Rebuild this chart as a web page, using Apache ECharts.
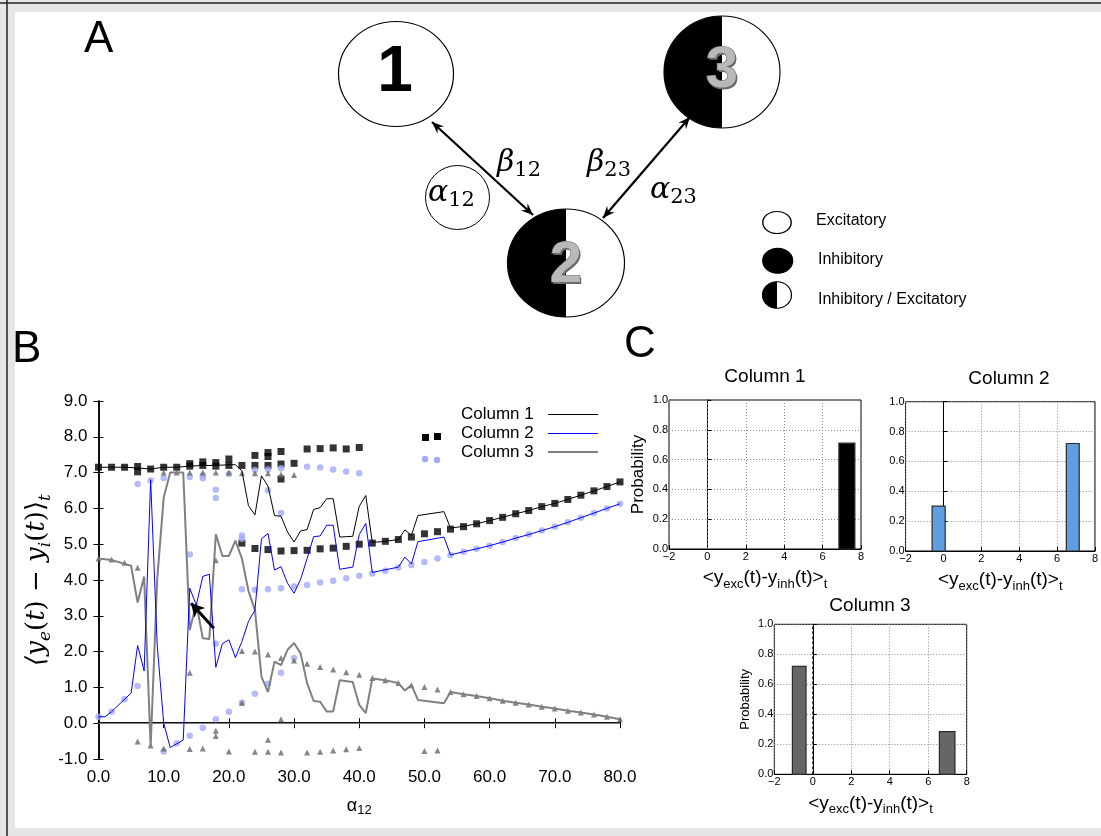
<!DOCTYPE html>
<html>
<head>
<meta charset="utf-8">
<script src="https://cdn.jsdelivr.net/npm/echarts@6/dist/echarts.min.js"></script>
<style>
  html, body { margin: 0; padding: 0; background: #e6e6e6; }
  #chart { width: 1101px; height: 836px; }
</style>
</head>
<body>
<div id="chart"></div>
<script>
// ---- Panel B: time-averaged excitation minus inhibition vs alpha_12 ----
// mean curves, [alpha12, value]
const col1Line = [[0,7.15],[2,7.15],[4,7.15],[6,7.13],[8,7.1],[10,7.15],[12,7.15],[14,7.18],[16,7.2],[18,7.2],[20,7.22],[21,7.22],[22,7.05],[23,6.08],[24,5.82],[25,6.91],[26,6.62],[27,5.8],[28,5.78],[29,5.34],[30,5.06],[31,5.37],[32,5.41],[33,5.97],[34,6.02],[35,6.27],[36,6.27],[37,5.2],[38,5.21],[39,5.22],[40,6.06],[41,6.36],[42,5.05],[44,5.08],[46,5.13],[47,5.4],[48,5.25],[49,5.8],[53,5.91],[54,5.45],[56,5.5],[58,5.57],[60,5.66],[62,5.75],[64,5.85],[66,5.94],[68,6.05],[70,6.14],[72,6.25],[74,6.37],[76,6.49],[78,6.61],[80,6.74]];
const col2Line = [[0,0.18],[1,0.18],[2,0.32],[4,0.67],[5,0.84],[6,2.17],[7,1.46],[8,6.8],[9,2.2],[10,0.0],[11,-0.68],[13,-0.47],[14,3.77],[15,3.3],[16,4.1],[17,4.16],[18,1.56],[19,2.22],[20,2.33],[21,1.83],[22,2.28],[23,2.84],[24,3.16],[25,5.15],[26,5.3],[27,4.28],[28,4.37],[29,3.91],[30,3.63],[31,4.02],[32,4.6],[33,5.21],[34,5.23],[35,5.53],[36,5.53],[37,4.3],[39,4.36],[40,5.27],[41,5.58],[42,4.21],[46,4.36],[47,4.64],[48,4.45],[49,5.07],[53,5.2],[54,4.7],[56,4.79],[58,4.87],[60,4.96],[62,5.06],[64,5.17],[66,5.27],[68,5.38],[70,5.49],[72,5.61],[74,5.74],[76,5.87],[78,6.0],[80,6.13]];
const col3Line = [[0,4.6],[2,4.56],[4,4.45],[5,4.4],[6,3.37],[7,4.1],[8,-0.65],[9,4.0],[10,6.3],[11,7.0],[13,7.0],[14,2.6],[15,3.35],[16,2.37],[17,2.35],[18,5.28],[19,4.67],[20,4.67],[21,5.1],[22,4.6],[23,3.7],[24,3.16],[25,1.3],[26,0.87],[27,1.72],[28,1.62],[29,2.05],[30,2.24],[31,1.95],[32,1.12],[33,0.62],[34,0.6],[35,0.33],[36,0.33],[37,1.2],[39,1.15],[40,0.51],[41,0.28],[42,1.25],[44,1.2],[46,1.12],[47,0.91],[48,1.07],[49,0.65],[53,0.56],[54,0.87],[56,0.81],[58,0.76],[60,0.7],[62,0.63],[64,0.57],[66,0.52],[68,0.46],[70,0.41],[72,0.35],[74,0.3],[76,0.24],[78,0.18],[80,0.11]];

// individual fixed points
const squarePts = [[0,7.15],[2,7.15],[4,7.15],[6,7.17],[6,7.02],[8,7.1],[10,7.15],[12,7.15],[14,7.25],[14,7.18],[16,7.3],[16,7.2],[18,7.28],[18,7.18],[20,7.38],[20,7.2],[22,7.2],[24,7.48],[24,7.2],[26,7.56],[26,7.45],[26,7.2],[28,7.59],[28,7.24],[28,6.82],[30,7.26],[32,7.66],[34,7.67],[36,7.69],[38,7.66],[40,7.7],
  [22,5.03],[24,4.88],[26,4.85],[28,4.81],[30,4.82],[32,4.83],[34,4.87],[36,4.89],[38,4.94],[40,5.0],[42,5.03],[44,5.08],[46,5.13],[48,5.2],[50,5.29],[52,5.35],[54,5.42],[56,5.49],[58,5.57],[60,5.66],[62,5.75],[64,5.85],[66,5.94],[68,6.05],[70,6.14],[72,6.25],[74,6.37],[76,6.49],[78,6.61],[80,6.74]];
const dotPts = [[0,0.18],[2,0.32],[4,0.67],[6,1.04],[6,6.68],[8,6.78],[10,6.85],[10,-0.79],[12,-0.56],[14,6.88],[14,4.71],[14,-0.35],[16,6.92],[16,6.84],[16,-0.13],[18,6.52],[18,6.29],[18,2.22],[18,0.11],[20,6.96],[20,0.32],[22,5.24],[22,5.15],[22,3.74],[22,0.57],[24,7.07],[24,3.73],[24,0.82],[26,7.09],[26,6.51],[26,3.74],[26,1.1],[28,7.12],[28,5.87],[28,3.77],[28,1.41],[30,3.82],[30,1.82],[32,7.16],[32,3.86],[34,7.14],[34,3.93],[36,7.09],[36,3.98],[38,7.03],[38,4.05],[40,6.98],[40,4.12],[42,4.18],[44,4.26],[46,4.35],[48,4.42],[50,4.5],[52,4.6],[54,4.7],[56,4.79],[58,4.87],[60,4.96],[62,5.06],[64,5.17],[66,5.27],[68,5.38],[70,5.49],[72,5.61],[74,5.74],[76,5.87],[78,6.0],[80,6.13]];
const trianglePts = [[0,4.6],[2,4.57],[4,4.48],[6,4.34],[6,-0.51],[8,-0.62],[10,7.0],[10,-0.71],[12,7.0],[14,7.0],[14,1.41],[14,-0.72],[16,7.0],[16,-0.71],[18,7.0],[18,4.55],[18,-0.21],[18,-0.36],[20,7.0],[20,-0.79],[22,6.98],[22,2.02],[22,0.57],[24,6.98],[24,2.0],[24,-0.8],[26,6.98],[26,1.92],[26,-0.46],[26,-0.8],[28,6.95],[28,1.82],[28,0.11],[28,-0.82],[30,6.93],[30,1.75],[32,1.66],[32,-0.82],[34,1.57],[34,-0.8],[36,1.5],[36,-0.76],[38,1.42],[38,-0.73],[40,1.35],[40,-0.69],[42,1.26],[44,1.2],[46,1.12],[48,1.06],[50,1.01],[50,-0.78],[52,0.94],[52,-0.76],[54,0.87],[56,0.81],[58,0.76],[60,0.7],[62,0.63],[64,0.57],[66,0.52],[68,0.46],[70,0.41],[72,0.35],[74,0.3],[76,0.24],[78,0.18],[80,0.11]];

// annotation arrow (tail -> head) in data units
const arrowTail = [17.7, 2.65];
const arrowHead = [14.2, 3.35];

const legendNames = ['Column 1', 'Column 2', 'Column 3'];

// ---- Panel C: histograms, [binStart, binEnd, probability] ----
const hist1 = [[6.85, 7.68, 0.71]];
const hist2 = [[-0.6, 0.09, 0.30], [6.49, 7.17, 0.72]];
const hist3 = [[-1.06, -0.35, 0.72], [6.58, 7.39, 0.285]];

const SANS = 'Liberation Sans, Arial, Helvetica, sans-serif';
const SERIF = 'DejaVu Serif, Liberation Serif, serif';

const chart = echarts.init(document.getElementById('chart'), null, { renderer: 'canvas' });

const fmt1 = v => v.toFixed(1);
const minusFmt = v => (v < 0 ? '\u2212' + Math.abs(v) : String(v));

function histBar(color) {
  return function (params, api) {
    const p0 = api.coord([api.value(0), 0]);
    const p1 = api.coord([api.value(1), api.value(2)]);
    return {
      type: 'rect',
      shape: { x: p0[0], y: p1[1], width: p1[0] - p0[0], height: p0[1] - p1[1] },
      style: { fill: color, stroke: '#2a2a2a', lineWidth: 1.2 }
    };
  };
}

const xNameRich = {
  rich: {
    s: { fontSize: 13, fontFamily: SANS, verticalAlign: 'bottom', lineHeight: 14, color: '#000' }
  },
  fontSize: 19, fontFamily: SANS, lineHeight: 26, color: '#000'
};

function histAxes(grid, withYName, yNameSize, yGap) {
  return {
    x: {
      type: 'value', gridIndex: grid, min: -2, max: 8, interval: 2,
      axisLine: { lineStyle: { color: '#000', width: 1 } },
      axisTick: { inside: true, length: 4, lineStyle: { color: '#000' } },
      axisLabel: { formatter: minusFmt, fontSize: 11, margin: 2, color: '#000', fontFamily: SANS },
      splitLine: { show: true, lineStyle: { type: [1, 2], color: '#8a8a8a', width: 1 } },
      name: '<y{s|exc}(t)-y{s|inh}(t)>{s|t}', nameLocation: 'middle', nameGap: 16,
      nameTextStyle: xNameRich
    },
    y: {
      type: 'value', gridIndex: grid, min: 0, max: 1, interval: 0.2,
      axisLine: { lineStyle: { color: '#000', width: 1 } },
      axisTick: { inside: true, length: 4, lineStyle: { color: '#000' } },
      axisLabel: { formatter: fmt1, fontSize: 11, margin: 1, color: '#000', fontFamily: SANS },
      splitLine: { show: true, lineStyle: { type: [1, 2], color: '#8a8a8a', width: 1 } },
      name: withYName ? 'Probability' : '', nameLocation: 'middle', nameRotate: 90, nameGap: yGap,
      nameTextStyle: { fontSize: yNameSize, fontFamily: SANS, color: '#000' }
    }
  };
}

const h1 = histAxes(1, true, 17, 22);
const h2 = histAxes(2, false, 12, 20);
const h3 = histAxes(3, true, 13, 22);

// ---- Panel A diagram helpers (layout only) ----
function stealth(tip, from, len, hw) {
  const dx = tip[0] - from[0], dy = tip[1] - from[1];
  const L = Math.hypot(dx, dy), ux = dx / L, uy = dy / L;
  const bx = tip[0] - ux * len, by = tip[1] - uy * len;
  return [[tip[0], tip[1]], [bx - uy * hw, by + ux * hw], [tip[0] - ux * len * 0.65, tip[1] - uy * len * 0.65], [bx + uy * hw, by - ux * hw]];
}
function doubleArrow(a, b) {
  return [
    { type: 'line', shape: { x1: a[0], y1: a[1], x2: b[0], y2: b[1] }, style: { stroke: '#000', lineWidth: 2.2 }, z: 20 },
    { type: 'polygon', shape: { points: stealth(a, b, 12, 5) }, style: { fill: '#000' }, z: 20 },
    { type: 'polygon', shape: { points: stealth(b, a, 12, 5) }, style: { fill: '#000' }, z: 20 }
  ];
}
function node(cx, cy, rx, ry, kind) {
  const children = [];
  if (kind === 'full') {
    children.push({ type: 'circle', shape: { cx: 0, cy: 0, r: ry }, style: { fill: '#000', stroke: '#000', lineWidth: 1 } });
  } else {
    children.push({ type: 'circle', shape: { cx: 0, cy: 0, r: ry }, style: { fill: '#fff', stroke: 'none' } });
    if (kind === 'half') {
      children.push({ type: 'sector', shape: { cx: 0, cy: 0, r: ry, r0: 0, startAngle: Math.PI / 2, endAngle: Math.PI * 1.5 }, style: { fill: '#000' } });
    }
    children.push({ type: 'circle', shape: { cx: 0, cy: 0, r: ry }, style: { fill: 'none', stroke: '#000', lineWidth: 1.1 } });
  }
  return { type: 'group', x: cx, y: cy, scaleX: rx / ry, z: 15, children: children };
}
function metalDigit(txt, x, y, size) {
  return {
    type: 'group', z: 30, children: [
      { type: 'text', x: x + 1.5, y: y + 1.5, z: 30,
        style: { text: txt, font: 'bold ' + size + 'px ' + SANS, align: 'center', verticalAlign: 'middle', fill: '#6a6a6a' } },
      { type: 'text', x: x, y: y, z: 31,
        style: { text: txt, font: 'bold ' + size + 'px ' + SANS, align: 'center', verticalAlign: 'middle',
          fill: '#b9b9b9', stroke: '#707070', lineWidth: 1.2 } }
    ]
  };
}
function mathLabel(main, sub, x, y) {
  return {
    type: 'text', x: x, y: y, z: 30,
    style: {
      text: '{m|' + main + '}{s|' + sub + '}',
      rich: {
        m: { fontFamily: SERIF, fontStyle: 'italic', fontSize: 30, lineHeight: 36, fill: '#000' },
        s: { fontFamily: SERIF, fontSize: 21, lineHeight: 20, verticalAlign: 'bottom', fill: '#000' }
      },
      align: 'left', verticalAlign: 'middle'
    }
  };
}

const graphics = [
  // figure sheet
  { type: 'rect', shape: { x: 0, y: 0, width: 1101, height: 836 }, style: { fill: '#e6e6e6' }, z: -20 },
  { type: 'line', shape: { x1: 7, y1: 0, x2: 7, y2: 836 }, style: { stroke: '#222', lineWidth: 1.5 }, z: -19 },
  { type: 'line', shape: { x1: 0, y1: 3, x2: 1101, y2: 3 }, style: { stroke: '#222', lineWidth: 1.5 }, z: -19 },
  { type: 'rect', shape: { x: 15, y: 12, width: 1086, height: 816 }, style: { fill: '#fff' }, z: -18 },

  // panel letters
  { type: 'text', x: 84, y: 40, style: { text: 'A', font: '44px ' + SANS, fill: '#000', verticalAlign: 'middle' } },
  { type: 'text', x: 12, y: 350, style: { text: 'B', font: '44px ' + SANS, fill: '#000', verticalAlign: 'middle' } },
  { type: 'text', x: 624, y: 345, style: { text: 'C', font: '44px ' + SANS, fill: '#000', verticalAlign: 'middle' } },

  // network nodes
  node(396, 74, 57.5, 52.5, 'open'),
  node(566, 263, 58.5, 54, 'half'),
  node(722, 72, 58, 56, 'half'),
  { type: 'text', x: 395, y: 73, z: 30, style: { text: '1', font: 'bold 64px ' + SANS, fill: '#000', align: 'center', verticalAlign: 'middle' } },
  metalDigit('2', 566, 266, 58),
  metalDigit('3', 722, 71, 58),
  ...doubleArrow([432, 122], [533, 215]),
  ...doubleArrow([690, 117], [603, 218]),
  mathLabel('\u03B2', '12', 497, 163),
  mathLabel('\u03B2', '23', 587, 163),
  mathLabel('\u03B1', '23', 650, 190),
  { type: 'circle', x: 457.5, y: 197.5, z: 25, shape: { cx: 0, cy: 0, r: 32 }, style: { fill: 'none', stroke: '#000', lineWidth: 1 } },
  mathLabel('\u03B1', '12', 428, 193),

  // node-type key
  node(777, 222.5, 14.2, 11, 'open'),
  node(777.7, 260.8, 15, 12.5, 'full'),
  node(777, 295, 14.5, 13.3, 'half'),
  { type: 'text', x: 816, y: 221, style: { text: 'Excitatory', font: '16px ' + SANS, fill: '#000', verticalAlign: 'middle' } },
  { type: 'text', x: 818, y: 260, style: { text: 'Inhibitory', font: '16px ' + SANS, fill: '#000', verticalAlign: 'middle' } },
  { type: 'text', x: 818, y: 300, style: { text: 'Inhibitory / Excitatory', font: '16px ' + SANS, fill: '#000', verticalAlign: 'middle' } },

  // panel B key
  { type: 'text', x: 461, y: 414, z: 40, style: { text: legendNames[0], font: '17px ' + SANS, fill: '#000', verticalAlign: 'middle' } },
  { type: 'text', x: 461, y: 433, z: 40, style: { text: legendNames[1], font: '17px ' + SANS, fill: '#000', verticalAlign: 'middle' } },
  { type: 'text', x: 461, y: 452, z: 40, style: { text: legendNames[2], font: '17px ' + SANS, fill: '#000', verticalAlign: 'middle' } },
  { type: 'line', z: 40, shape: { x1: 548, y1: 414.5, x2: 598, y2: 414.5 }, style: { stroke: '#000', lineWidth: 1 } },
  { type: 'line', z: 40, shape: { x1: 548, y1: 433.5, x2: 598, y2: 433.5 }, style: { stroke: '#0000ff', lineWidth: 1 } },
  { type: 'line', z: 40, shape: { x1: 548, y1: 452, x2: 598, y2: 452 }, style: { stroke: '#808080', lineWidth: 2 } },
  { type: 'rect', z: 40, shape: { x: 422, y: 434, width: 7, height: 7 }, style: { fill: '#000' } },
  { type: 'rect', z: 40, shape: { x: 434, y: 433, width: 7, height: 7 }, style: { fill: '#000' } },
  { type: 'circle', z: 40, shape: { cx: 425, cy: 459, r: 3.2 }, style: { fill: '#a3aaf7' } },
  { type: 'circle', z: 40, shape: { cx: 437, cy: 460, r: 3.2 }, style: { fill: '#a3aaf7' } },

  // panel C titles
  { type: 'text', x: 765, y: 377, style: { text: 'Column 1', font: '19px ' + SANS, fill: '#000', align: 'center', verticalAlign: 'middle' } },
  { type: 'text', x: 1009, y: 379, style: { text: 'Column 2', font: '19px ' + SANS, fill: '#000', align: 'center', verticalAlign: 'middle' } },
  { type: 'text', x: 870, y: 606, style: { text: 'Column 3', font: '19px ' + SANS, fill: '#000', align: 'center', verticalAlign: 'middle' } }
];

const axisBlack = { lineStyle: { color: '#000', width: 1.5 } };

const option = {
  animation: false,
  backgroundColor: 'transparent',
  graphic: { elements: graphics },
  grid: [
    { left: 98.5, top: 401, width: 521.5, height: 358 },
    { left: 669, top: 400, width: 192, height: 149, show: true, borderColor: '#000', borderWidth: 1 },
    { left: 905.6, top: 401.7, width: 193.7, height: 149.3, show: true, borderColor: '#000', borderWidth: 1 },
    { left: 774.3, top: 624.3, width: 192.4, height: 150, show: true, borderColor: '#000', borderWidth: 1 }
  ],
  xAxis: [
    {
      type: 'value', gridIndex: 0, min: 0, max: 80, interval: 10, position: 'bottom',
      axisLine: axisBlack, axisTick: { inside: true, length: 5, lineStyle: { color: '#000' } },
      axisLabel: { formatter: fmt1, fontSize: 17, color: '#000', fontFamily: SANS, margin: 10 },
      splitLine: { show: false },
      name: '\u03B1{s|12}', nameLocation: 'middle', nameGap: 36,
      nameTextStyle: { fontSize: 18, fontFamily: SANS, color: '#000', lineHeight: 22,
        rich: { s: { fontSize: 13, fontFamily: SANS, verticalAlign: 'bottom', lineHeight: 12, color: '#000' } } }
    },
    {
      type: 'value', gridIndex: 0, min: 0, max: 80, interval: 10, position: 'top',
      axisLine: axisBlack, axisTick: { inside: true, length: 5, lineStyle: { color: '#000' } },
      axisLabel: { show: false }, splitLine: { show: false }
    },
    h1.x, h2.x, h3.x
  ],
  yAxis: [
    {
      type: 'value', gridIndex: 0, min: -1, max: 9, interval: 1, position: 'left',
      axisLine: axisBlack, axisTick: { inside: true, length: 5, lineStyle: { color: '#000' } },
      axisLabel: { formatter: fmt1, fontSize: 17, color: '#000', fontFamily: SANS, margin: 11 },
      splitLine: { show: false },
      name: '{i|\u27E8y}{s|e}{n|(}{i|t}{n|) \u2212 }{i|y}{s|i}{n|(}{i|t}{n|)\u27E9}{s|t}', nameLocation: 'middle', nameRotate: 90, nameGap: 42,
      nameTextStyle: {
        fontSize: 26, fontFamily: SERIF, color: '#000', lineHeight: 34,
        rich: {
          i: { fontSize: 26, fontFamily: SERIF, fontStyle: 'italic', lineHeight: 34, color: '#000' },
          n: { fontSize: 26, fontFamily: SERIF, lineHeight: 34, color: '#000' },
          s: { fontSize: 17, fontFamily: SERIF, fontStyle: 'italic', verticalAlign: 'bottom', lineHeight: 16, color: '#000' }
        }
      }
    },
    {
      type: 'value', gridIndex: 0, min: -1, max: 9, interval: 1, position: 'right',
      axisLine: axisBlack, axisTick: { inside: true, length: 5, lineStyle: { color: '#000' } },
      axisLabel: { show: false }, splitLine: { show: false }
    },
    h1.y, h2.y, h3.y
  ],
  series: [
    {
      name: 'Column 1 fixed points', type: 'scatter', xAxisIndex: 0, yAxisIndex: 0,
      symbol: 'rect', symbolSize: 7, itemStyle: { color: '#000' }, data: squarePts, z: 3
    },
    {
      name: 'Column 2 fixed points', type: 'scatter', xAxisIndex: 0, yAxisIndex: 0,
      symbol: 'circle', symbolSize: 6.5, itemStyle: { color: '#a3aaf7' }, data: dotPts, z: 3
    },
    {
      name: 'Column 3 fixed points', type: 'scatter', xAxisIndex: 0, yAxisIndex: 0,
      symbol: 'triangle', symbolSize: 6, itemStyle: { color: '#666' }, data: trianglePts, z: 3
    },
    {
      name: legendNames[2], type: 'line', xAxisIndex: 0, yAxisIndex: 0, data: col3Line,
      showSymbol: false, lineStyle: { color: '#808080', width: 2 }, z: 4,
      markLine: {
        silent: true, symbol: 'none', label: { show: false },
        lineStyle: { color: '#808080', width: 1, type: 'solid' },
        data: [{ yAxis: 0 }]
      }
    },
    {
      name: legendNames[1], type: 'line', xAxisIndex: 0, yAxisIndex: 0, data: col2Line,
      showSymbol: false, lineStyle: { color: '#0000ff', width: 1 }, z: 5
    },
    {
      name: legendNames[0], type: 'line', xAxisIndex: 0, yAxisIndex: 0, data: col1Line,
      showSymbol: false, lineStyle: { color: '#000', width: 1 }, z: 6,
      markLine: {
        silent: true, symbol: ['none', 'arrow'], symbolSize: [11, 13], label: { show: false },
        lineStyle: { color: '#000', width: 3, type: 'solid' },
        data: [[{ coord: arrowTail }, { coord: arrowHead }]]
      }
    },
    {
      type: 'line', xAxisIndex: 2, yAxisIndex: 2, data: [[0, 0], [0, 1]], showSymbol: false, silent: true,
      lineStyle: { color: '#666', width: 1, type: [2, 2] }, z: 1
    },
    {
      type: 'line', xAxisIndex: 3, yAxisIndex: 3, data: [[0, 0], [0, 1]], showSymbol: false, silent: true,
      lineStyle: { color: '#000', width: 1, type: [3, 2] }, z: 1
    },
    {
      type: 'line', xAxisIndex: 4, yAxisIndex: 4, data: [[0, 0], [0, 1]], showSymbol: false, silent: true,
      lineStyle: { color: '#000', width: 1, type: [3, 2] }, z: 1
    },
    { type: 'custom', xAxisIndex: 2, yAxisIndex: 2, renderItem: histBar('#000'), encode: { x: [0, 1], y: 2 }, data: hist1, z: 3 },
    { type: 'custom', xAxisIndex: 3, yAxisIndex: 3, renderItem: histBar('#5f9ee0'), encode: { x: [0, 1], y: 2 }, data: hist2, z: 3 },
    { type: 'custom', xAxisIndex: 4, yAxisIndex: 4, renderItem: histBar('#666666'), encode: { x: [0, 1], y: 2 }, data: hist3, z: 3 }
  ]
};

chart.setOption(option);
</script>
</body>
</html>
